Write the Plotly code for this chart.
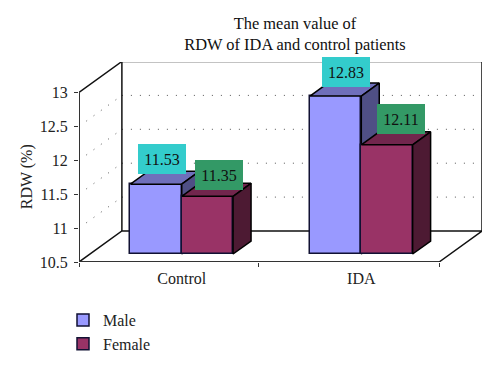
import plotly.graph_objects as go

categories = ["Control", "IDA"]
male = [11.53, 12.83]
female = [11.35, 12.11]
y_ticks = [10.5, 11, 11.5, 12, 12.5, 13]
y_tick_labels = ["10.5", "11", "11.5", "12", "12.5", "13"]
grid_values = [11, 11.5, 12, 12.5]

SERIF = "Liberation Serif"
PAGE = 8           # default body margin of the page
PX_X = 180.0       # pixels per category
PX_Y = 67.8        # pixels per y unit
Y0, Y1 = 10.5, 13
X_LEFT = -103 / PX_X
X_RIGHT_FRONT = 258 / PX_X
X_MID_TICK = 77 / PX_X
WALL_DX = 43 / PX_X
WALL_DY = 31 / PX_Y
BAR_W = 0.286
BAR_LIFT = 8 / PX_Y
SIDE_DX = 18 / PX_X
SIDE_DY = 13 / PX_Y

fig = go.Figure()


def poly(xs, ys, fill=None, color="black", width=1.5, dash=None, axes=("x", "y")):
    fig.add_trace(go.Scatter(
        x=xs, y=ys, mode="lines", xaxis=axes[0], yaxis=axes[1],
        fill="toself" if fill else None, fillcolor=fill,
        line=dict(color=color, width=width, dash=dash),
        showlegend=False, hoverinfo="skip", cliponaxis=False))


# dotted grid on side wall and back wall
for v in grid_values:
    poly([X_LEFT, X_LEFT + WALL_DX], [v, v + WALL_DY], color="#555555", width=1, dash="1px,8px")
    poly([X_LEFT + WALL_DX, X_RIGHT_FRONT + WALL_DX], [v + WALL_DY] * 2,
         color="#555555", width=1, dash="1px,8px")

# frame
bx0, bx1 = X_LEFT + WALL_DX, X_RIGHT_FRONT + WALL_DX
by0, by1 = Y0 + WALL_DY, Y1 + WALL_DY
poly([X_LEFT, bx0, bx1, bx1], [Y1, by1, by1, by0], color="#111111")
poly([bx0, bx0], [by1, by0], color="#111111")
poly([X_LEFT, bx0, bx1, X_RIGHT_FRONT], [Y0, by0, by0, Y0], color="#111111")
poly([X_LEFT, X_LEFT], [Y0, Y1], color="#333333", width=2)
poly([X_LEFT, X_RIGHT_FRONT], [Y0, Y0], color="#333333", width=2)


def bars(name, values, offset, front, top, side, axes):
    for i, v in enumerate(values):
        l, r = i + offset, i + offset + BAR_W
        t, b = v + BAR_LIFT, Y0 + BAR_LIFT
        poly([l, r, r + SIDE_DX, l + SIDE_DX, l], [t, t, t + SIDE_DY, t + SIDE_DY, t],
             fill=top, axes=axes)
        poly([r, r + SIDE_DX, r + SIDE_DX, r, r], [t, t + SIDE_DY, b + SIDE_DY, b, t],
             fill=side, axes=axes)
    fig.add_trace(go.Bar(
        x=list(range(len(values))), y=[v - Y0 for v in values], base=Y0 + BAR_LIFT,
        width=BAR_W, offset=offset, name=name, xaxis=axes[0], yaxis=axes[1],
        marker=dict(color=front, line=dict(color="#111133", width=1.5)),
        cliponaxis=False, hoverinfo="skip"))


bars("Male", male, -BAR_W, "#9999FF", "#6F6FBB", "#4F4F85", ("x2", "y2"))
bars("Female", female, 0, "#993366", "#72264D", "#4D1A33", ("x3", "y3"))

# value labels
label_sets = [
    (male, -BAR_W / 2, "#33CCCC", [(6, 25.5), (10, 24)]),
    (female, BAR_W / 2, "#339966", [(11.5, 21), (14.5, 26)]),
]
for vals, off, col, shifts in label_sets:
    for i, v in enumerate(vals):
        fig.add_annotation(
            x=i + off, y=v + BAR_LIFT, xref="x", yref="y", text=f"{v:.2f}",
            xshift=shifts[i][0], yshift=shifts[i][1], showarrow=False,
            width=48, height=30, bgcolor=col, borderpad=0, borderwidth=0,
            font=dict(family=SERIF, size=16, color="#111111"))

fig.add_annotation(
    xref="paper", yref="y", x=-52 / 403, xanchor="center", y=(Y0 + Y1) / 2,
    text="RDW (%)", textangle=-90,
    showarrow=False, font=dict(family=SERIF, size=16, color="#222222"))

x_range = [X_LEFT, X_RIGHT_FRONT + WALL_DX]
y_range = [Y0, Y0 + 200 / PX_Y]
FIG_W, FIG_H = 500 - 2 * PAGE, 370 - 2 * PAGE
fig.update_layout(
    width=FIG_W, height=FIG_H, autosize=False,
    margin=dict(l=79 - PAGE, r=FIG_W - (482 - PAGE), t=62 - PAGE, b=FIG_H - (262 - PAGE),
                autoexpand=False),
    paper_bgcolor="white", plot_bgcolor="white",
    barmode="overlay", bargap=0,
    font=dict(family=SERIF, size=16, color="#222222"),
    title=dict(text="The mean value of<br>RDW of IDA and control patients",
               x=(295 - PAGE) / FIG_W, xanchor="center", y=1 - (28.5 - PAGE) / FIG_H, yanchor="middle",
               font=dict(family=SERIF, size=16.4, color="#111111")),
    legend=dict(x=-16 / 403, xanchor="left", y=-41 / 200, yanchor="top",
                bgcolor="rgba(0,0,0,0)", font=dict(family=SERIF, size=16)),
    xaxis=dict(range=x_range, tickvals=[0, 1], ticktext=categories, ticks="",
               ticklabelstandoff=5, showgrid=False, zeroline=False, showline=False,
               minor=dict(tickmode="array", tickvals=[X_LEFT, X_MID_TICK, X_RIGHT_FRONT],
                          ticks="outside", ticklen=4, tickcolor="#333333", showgrid=False)),
    yaxis=dict(range=y_range, tickvals=y_ticks, ticktext=y_tick_labels, ticks="outside",
               ticklen=4, tickcolor="#333333", ticklabelstandoff=3,
               showgrid=False, zeroline=False, showline=False),
    xaxis2=dict(range=x_range, overlaying="x", visible=False),
    yaxis2=dict(range=y_range, overlaying="y", visible=False),
    xaxis3=dict(range=x_range, overlaying="x", visible=False),
    yaxis3=dict(range=y_range, overlaying="y", visible=False),
)
fig.write_html("out.html")
